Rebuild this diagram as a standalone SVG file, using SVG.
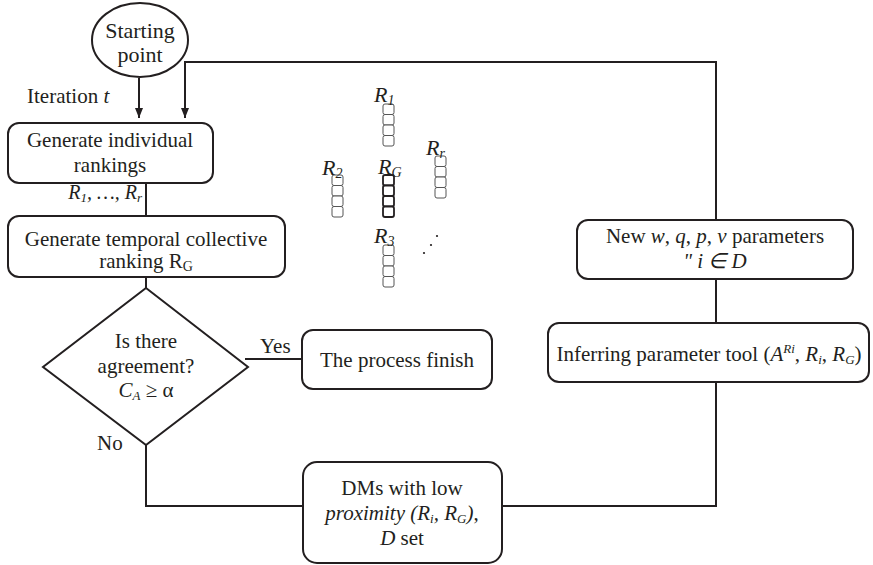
<svg xmlns="http://www.w3.org/2000/svg" width="873" height="565" viewBox="0 0 873 565">
  <style>
    .shape { fill: #ffffff; stroke: #231f20; stroke-width: 2; }
    .line { fill: none; stroke: #231f20; stroke-width: 2; }
    .t { font-family: "Liberation Serif", "Times New Roman", serif; font-size: 21px; fill: #231f20; }
    .c { text-anchor: middle; }
    .i { font-style: italic; }
    .cell { fill: #ffffff; stroke: #555555; stroke-width: 1; }
    .cellg { fill: #ffffff; stroke: #231f20; stroke-width: 1.8; }
  </style>
  <defs>
    <marker id="arrow" viewBox="0 0 10 10" refX="10" refY="5" markerWidth="10" markerHeight="12" markerUnits="userSpaceOnUse" orient="auto">
      <path d="M0,1 L10,5 L0,9 Z" fill="#231f20"/>
    </marker>
    <!-- one ranking column: four stacked cells -->
    <g id="stack">
      <rect class="cell" x="0" y="0" width="11" height="10.5" rx="2"/>
      <rect class="cell" x="0" y="10.5" width="11" height="10.5" rx="2"/>
      <rect class="cell" x="0" y="21" width="11" height="10.5" rx="2"/>
      <rect class="cell" x="0" y="31.5" width="11" height="10.5" rx="2"/>
    </g>
  </defs>

  <!-- connectors -->
  <g id="connectors">
    <line class="line" x1="139" y1="78" x2="139" y2="118" marker-end="url(#arrow)"/>
    <polyline class="line" points="716,220 716,62 185,62 185,118" marker-end="url(#arrow)"/>
    <line class="line" x1="146" y1="183" x2="146" y2="216"/>
    <line class="line" x1="146" y1="277" x2="146" y2="288"/>
    <line class="line" x1="245" y1="359" x2="302" y2="359"/>
    <polyline class="line" points="146,445 146,506 303,506"/>
    <polyline class="line" points="502,506 716,506 716,382"/>
    <line class="line" x1="716" y1="279" x2="716" y2="323"/>
  </g>

  <g id="start">
    <ellipse class="shape" cx="140" cy="40" rx="48" ry="37"/>
    <text class="t c" x="140" y="38" style="font-size:22px">Starting</text>
    <text class="t c" x="140" y="62" style="font-size:22px">point</text>
  </g>

  <text class="t" x="27" y="103">Iteration <tspan class="i">t</tspan></text>

  <g id="individual">
    <rect class="shape" x="8" y="123" width="205" height="60" rx="11"/>
    <text class="t c" x="110" y="147">Generate individual</text>
    <text class="t c" x="110" y="172">rankings</text>
  </g>

  <text class="t i" x="142" y="199" text-anchor="end" style="font-size:20px">R<tspan font-size="13" dy="3">1</tspan><tspan dy="-3">,  …, R</tspan><tspan font-size="13" dy="3">r</tspan></text>

  <g id="collective">
    <rect class="shape" x="8" y="216" width="277" height="61" rx="11"/>
    <text class="t c" x="146" y="246">Generate temporal collective</text>
    <text class="t c" x="146" y="268">ranking R<tspan font-size="14" dy="3">G</tspan></text>
  </g>

  <g id="agreement">
    <polygon class="shape" points="146,288 248,367 146,445 43,367"/>
    <text class="t c" x="146" y="348">Is there</text>
    <text class="t c" x="146" y="373">agreement?</text>
    <text class="t c" x="146" y="397"><tspan class="i">C</tspan><tspan class="i" font-size="13" dy="3">A</tspan><tspan dy="-3"> ≥ α</tspan></text>
  </g>

  <text class="t" x="260" y="353">Yes</text>
  <text class="t" x="97" y="450">No</text>

  <g id="finish">
    <rect class="shape" x="302" y="330" width="190" height="59" rx="11"/>
    <text class="t c" x="397" y="367">The process finish</text>
  </g>

  <g id="lowproximity">
    <rect class="shape" x="303" y="462" width="199" height="101" rx="14"/>
    <text class="t c" x="402" y="495">DMs with low</text>
    <text class="t c" x="402" y="520"><tspan class="i">proximity (R</tspan><tspan class="i" font-size="13" dy="3">i</tspan><tspan class="i" dy="-3">, R</tspan><tspan class="i" font-size="13" dy="3">G</tspan><tspan class="i" dy="-3">)</tspan>,</text>
    <text class="t c" x="402" y="545"><tspan class="i">D</tspan> set</text>
  </g>

  <g id="newparams">
    <rect class="shape" x="577" y="220" width="276" height="59" rx="11"/>
    <text class="t c" x="715" y="243">New <tspan class="i">w</tspan>, <tspan class="i">q</tspan>, <tspan class="i">p</tspan>, <tspan class="i">v</tspan> parameters</text>
    <text class="t c i" x="715" y="268">" i ∈ D</text>
  </g>

  <g id="inferring">
    <rect class="shape" x="548" y="323" width="321" height="59" rx="11"/>
    <text class="t c" x="709" y="361">Inferring parameter tool (<tspan class="i">A</tspan><tspan class="i" font-size="13" dy="-8">Ri</tspan><tspan dy="8">, </tspan><tspan class="i">R</tspan><tspan class="i" font-size="13" dy="3">i</tspan><tspan dy="-3">, </tspan><tspan class="i">R</tspan><tspan class="i" font-size="13" dy="3">G</tspan><tspan dy="-3">)</tspan></text>
  </g>

  <!-- ranking columns -->
  <g id="rankings">
    <use href="#stack" x="383" y="104"/>
    <text class="t i" x="374" y="102" style="font-size:22px">R<tspan font-size="14" dy="3">1</tspan></text>
    <use href="#stack" x="332" y="175"/>
    <text class="t i" x="322" y="175" style="font-size:22px">R<tspan font-size="14" dy="3">2</tspan></text>
    <g>
      <rect class="cellg" x="383" y="175" width="11" height="10.5" rx="2"/>
      <rect class="cellg" x="383" y="185.5" width="11" height="10.5" rx="2"/>
      <rect class="cellg" x="383" y="196" width="11" height="10.5" rx="2"/>
      <rect class="cellg" x="383" y="206.5" width="11" height="10.5" rx="2"/>
    </g>
    <text class="t i" x="378" y="174" style="font-size:22px">R<tspan font-size="14" dy="3">G</tspan></text>
    <use href="#stack" x="435" y="156"/>
    <text class="t i" x="426" y="155" style="font-size:22px">R<tspan font-size="14" dy="3">r</tspan></text>
    <use href="#stack" x="383" y="245"/>
    <text class="t i" x="374" y="243" style="font-size:22px">R<tspan font-size="14" dy="3">3</tspan></text>
    <circle cx="424" cy="253" r="1.1" fill="#231f20"/>
    <circle cx="431" cy="245" r="1.1" fill="#231f20"/>
    <circle cx="437" cy="236" r="1.1" fill="#231f20"/>
  </g>
</svg>
